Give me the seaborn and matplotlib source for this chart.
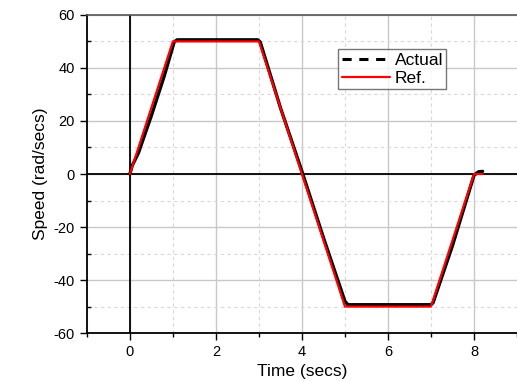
import matplotlib
matplotlib.use("Agg")
import matplotlib.pyplot as plt
import seaborn as sns
import pandas as pd
from matplotlib.ticker import MultipleLocator
from matplotlib.lines import Line2D

sns.set_theme(style="white")
plt.rcParams['font.family'] = ['Liberation Sans', 'DejaVu Sans']
plt.rcParams['axes.unicode_minus'] = False
plt.rcParams['text.color'] = 'black'
plt.rcParams['axes.labelcolor'] = 'black'
plt.rcParams['xtick.color'] = 'black'
plt.rcParams['ytick.color'] = 'black'

ref_t = [0, 1, 3, 5, 7, 8, 8.2]
ref_v = [0, 50, 50, -50, -50, 0, 0]

act_t = [0, 0.05, 0.2, 0.5, 0.8, 1.03, 1.1, 2.0, 2.97, 3.03, 3.5, 4.0, 4.5, 5.0, 5.07, 6.0, 7.0, 7.05, 7.5, 8.0, 8.1, 8.2]
act_v = [0, 3, 8, 22, 37, 49.8, 50.6, 50.6, 50.6, 49.8, 25, 1, -24, -48, -49.3, -49.3, -49.3, -48.5, -27, -0.5, 0.8, 1.0]

df_ref = pd.DataFrame({"t": ref_t, "v": ref_v})
df_act = pd.DataFrame({"t": act_t, "v": act_v})

fig = plt.figure(figsize=(5.17, 3.82), dpi=100)
ax = fig.add_axes([0.168, 0.128, 0.832, 0.833])

ax.axhline(0, color="black", lw=1.3, zorder=1)
ax.axvline(0, color="black", lw=1.3, zorder=1)

sns.lineplot(data=df_act, x="t", y="v", ax=ax, color="black", lw=2.4,
             legend=False, zorder=3)
sns.lineplot(data=df_ref, x="t", y="v", ax=ax, color="#ff0000", lw=1.6,
             legend=False, zorder=4)

ax.set_xlim(-1, 9)
ax.set_ylim(-60, 60)
ax.xaxis.set_major_locator(MultipleLocator(2))
ax.xaxis.set_minor_locator(MultipleLocator(1))
ax.yaxis.set_major_locator(MultipleLocator(20))
ax.yaxis.set_minor_locator(MultipleLocator(10))
ax.grid(which="major", color="#c8c8c8", lw=1.0, linestyle="-")
ax.grid(which="minor", color="#d8d8d8", lw=0.8, linestyle=(0, (3, 3)))
ax.set_axisbelow(True)

ax.tick_params(which="major", direction="out", length=5, width=1, colors="black",
               labelsize=10.5, bottom=True, left=True)
ax.tick_params(which="minor", direction="in", length=3, width=1, colors="black",
               bottom=True, left=True)
ax.tick_params(axis="x", which="minor", direction="out")

for s in ["left", "bottom"]:
    ax.spines[s].set_color("black")
    ax.spines[s].set_linewidth(1.3)
ax.spines["top"].set_color("#555555")
ax.spines["top"].set_linewidth(1.2)
ax.spines["right"].set_visible(False)

ax.set_xlabel("Time (secs)", fontsize=12.5)
ax.set_ylabel("Speed (rad/secs)", fontsize=12.5)

handles = [Line2D([], [], color="black", lw=2.2, linestyle=(0, (3, 2.5))),
           Line2D([], [], color="#ff0000", lw=1.6)]
leg = ax.legend(handles, ["Actual", "Ref."], loc="upper left",
                bbox_to_anchor=(0.584, 0.892), fontsize=12.5,
                frameon=True, fancybox=False, handlelength=2.8, handletextpad=0.25,
                borderpad=0.2, labelspacing=0.15, borderaxespad=0)
leg.get_frame().set_edgecolor("#555555")
leg.get_frame().set_linewidth(1.0)

fig.savefig("out.png", dpi=100)
